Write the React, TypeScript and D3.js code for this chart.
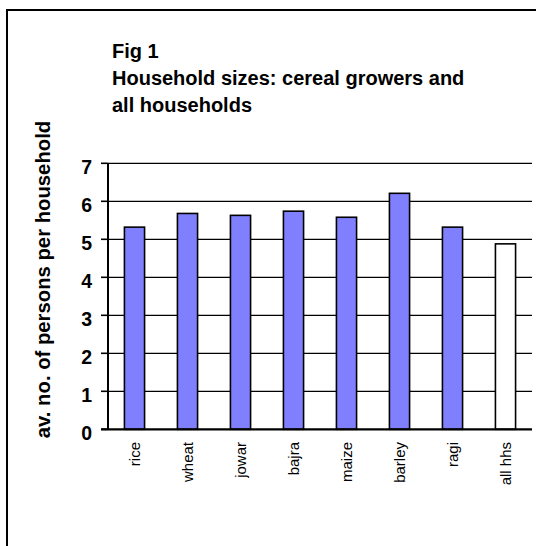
import React from "react";
import * as d3 from "d3";

const categories = ["rice", "wheat", "jowar", "bajra", "maize", "barley", "ragi", "all hhs"];
const values = [5.32, 5.68, 5.63, 5.74, 5.58, 6.21, 5.32, 4.88];
const yTicks = [0, 1, 2, 3, 4, 5, 6, 7];
const titleLines = ["Fig 1", "Household sizes: cereal growers and", "all households"];
const yLabel = "av. no. of persons per household";

const W = 536;
const H = 546;
const FONT = "'Liberation Sans', Arial, Helvetica, sans-serif";

export default function App() {
  const left = 108;
  const right = 532;
  const top = 163.3;
  const bottom = 429.3;

  const x = d3.scaleBand<string>().domain(categories).range([left, right]).paddingInner(0.62).paddingOuter(0.31);
  const y = d3.scaleLinear().domain([0, 7]).range([bottom, top]);

  return (
    <svg
      width={W}
      height={H}
      style={{ position: "absolute", left: 0, top: 0, background: "#fff" }}
      fontFamily={FONT}
    >
      <rect x={0} y={0} width={W} height={H} fill="#fff" />
      {/* outer frame */}
      <rect x={7} y={10} width={W + 20} height={H + 20} fill="none" stroke="#000" strokeWidth={2} />

      {/* title */}
      {titleLines.map((t, i) => (
        <text key={i} x={112} y={57.5 + i * 27} fontSize={20} fontWeight="bold" fill="#000">
          {t}
        </text>
      ))}

      {/* gridlines */}
      {yTicks.filter((t) => t > 0).map((t) => (
        <line key={t} x1={left} x2={right} y1={y(t)} y2={y(t)} stroke="#000" strokeWidth={1.3} />
      ))}

      {/* bars */}
      {categories.map((c, i) => (
        <rect
          key={c}
          x={x(c)}
          y={y(values[i])}
          width={x.bandwidth()}
          height={y(0) - y(values[i])}
          fill={c === "all hhs" ? "#ffffff" : "#8080ff"}
          stroke="#000"
          strokeWidth={1.6}
        />
      ))}

      {/* y axis */}
      <line x1={left} x2={left} y1={top} y2={bottom} stroke="#000" strokeWidth={2} />
      {yTicks.map((t) => (
        <g key={t}>
          <line x1={left - 7} x2={left} y1={y(t)} y2={y(t)} stroke="#000" strokeWidth={1.6} />
          <text
            x={92}
            y={y(t) + 11}
            textAnchor="end"
            fontSize={19.5}
            fontWeight="bold"
            fill="#000"
          >
            {t}
          </text>
        </g>
      ))}
      {/* baseline */}
      <line x1={left - 7} x2={right} y1={bottom} y2={bottom} stroke="#000" strokeWidth={2.2} />

      {/* category labels */}
      {categories.map((c) => {
        const cx = (x(c) as number) + x.bandwidth() / 2;
        return (
          <text
            key={c}
            transform={`translate(${cx + 5.8},442) rotate(-90)`}
            textAnchor="end"
            fontSize={15}
            fill="#000"
          >
            {c}
          </text>
        );
      })}

      {/* y axis title */}
      <text
        transform={`translate(49.5,279.5) rotate(-90)`}
        textAnchor="middle"
        fontSize={20.3}
        fontWeight="bold"
        fill="#000"
      >
        {yLabel}
      </text>
    </svg>
  );
}
